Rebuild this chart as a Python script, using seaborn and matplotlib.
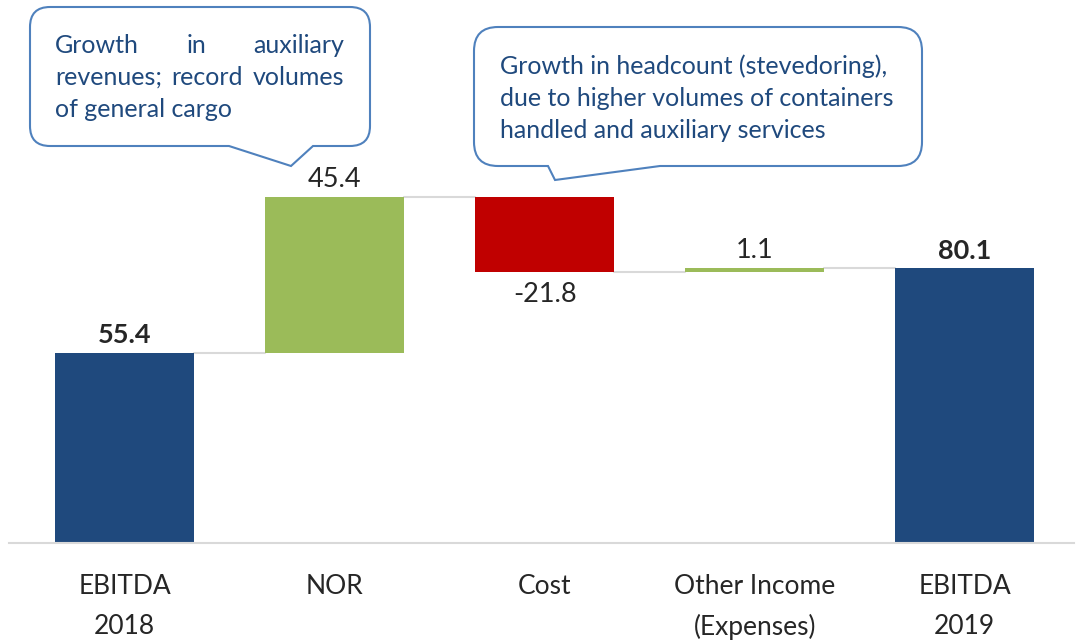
import numpy as np
import pandas as pd
import matplotlib.pyplot as plt
import seaborn as sb
from matplotlib.path import Path
from matplotlib.patches import PathPatch

# waterfall data
categories = ['EBITDA\n2018', 'NOR', 'Cost', 'Other Income\n(Expenses)', 'EBITDA\n2019']
ebitda_2018 = 55.4
changes = [45.4, -21.8, 1.1]
ebitda_2019 = 80.1
bar_colors = ['#1F497D', '#9BBB59', '#C00000', '#9BBB59', '#1F497D']

note_left = ['Growth in auxiliary', 'revenues; record volumes', 'of general cargo']
note_right = ['Growth in headcount (stevedoring),', 'due to higher volumes of containers',
              'handled and auxiliary services']

# bases and tops of each bar
levels = np.cumsum([ebitda_2018] + changes)
bases = [0.0] + [min(a, b) for a, b in zip(levels[:-1], levels[1:])] + [0.0]
lengths = [ebitda_2018] + [abs(c) for c in changes] + [ebitda_2019]
frame = pd.DataFrame({'Item': categories, 'Length': lengths})

sb.set_style('white')
plt.rcParams['font.family'] = ['Lato', 'DejaVu Sans']

fig = plt.figure(figsize=(10.76, 6.4), dpi=100)
W, H = 1076, 640
ax = fig.add_axes([9 / W, (H - 543) / H, 1065 / W, 543 / H])
sb.barplot(data=frame, x='Item', y='Length', hue='Item', palette=bar_colors,
           width=0.66, saturation=1, legend=False, ax=ax, linewidth=0)
for patch, base in zip(ax.patches, bases):
    patch.set_y(base)

ax.set_xlim(-0.55, 4.52)
ax.set_ylim(0, 158.3)
ax.set_xlabel('')
ax.set_ylabel('')
ax.set_yticks([])
for side in ['top', 'left', 'right']:
    ax.spines[side].set_visible(False)
ax.spines['bottom'].set_color('#D9D9D9')
ax.spines['bottom'].set_linewidth(1.5)
ax.tick_params(axis='x', length=0, pad=22, labelsize=19, labelcolor='#262626')
for lab in ax.get_xticklabels():
    lab.set_linespacing(1.75)

# connector lines between bars
half = 0.33
for i, lvl in enumerate(levels):
    ax.plot([i + half, i + 1 - half], [lvl, lvl], color='#D9D9D9', lw=1.5, zorder=0)

# value labels
tops = [b + l for b, l in zip(bases, lengths)]
value_text = ['55.4', '45.4', '-21.8', '1.1', '80.1']
weights = ['bold', 'normal', 'normal', 'normal', 'bold']
for i in range(5):
    if i == 2:
        ax.annotate(value_text[i], (i, bases[i]), xytext=(0, -7), textcoords='offset points',
                    ha='center', va='top', fontsize=19.5, color='#262626')
    else:
        ax.annotate(value_text[i], (i, tops[i]), xytext=(0, 4), textcoords='offset points',
                    ha='center', va='bottom', fontsize=19.5, color='#262626', fontweight=weights[i])

# overlay in pixel coords for the callouts
ov = fig.add_axes([0, 0, 1, 1], zorder=5)
ov.set_xlim(0, W)
ov.set_ylim(H, 0)
ov.axis('off')
ov.patch.set_alpha(0)


def callout(x0, y0, x1, y1, r, tl, tip, tr):
    verts = [(x0 + r, y0), (x1 - r, y0), (x1, y0), (x1, y0 + r), (x1, y1 - r), (x1, y1), (x1 - r, y1),
             (tr, y1), tip, (tl, y1), (x0 + r, y1), (x0, y1), (x0, y1 - r), (x0, y0 + r), (x0, y0),
             (x0 + r, y0), (x0 + r, y0)]
    codes = [Path.MOVETO, Path.LINETO, Path.CURVE3, Path.CURVE3, Path.LINETO, Path.CURVE3, Path.CURVE3,
             Path.LINETO, Path.LINETO, Path.LINETO, Path.LINETO, Path.CURVE3, Path.CURVE3, Path.LINETO,
             Path.CURVE3, Path.CURVE3, Path.CLOSEPOLY]
    ov.add_patch(PathPatch(Path(verts, codes), facecolor='white', edgecolor='#4F81BD', lw=1.5))


callout(30, 7, 370, 146, 20, 229, (291, 166), 313)
callout(474, 27, 922, 166, 24, 548, (555, 180), 660)

text_col = '#1F497D'
fig.canvas.draw()
renderer = fig.canvas.get_renderer()


def justified(words, left, right, y):
    objs = [ov.text(left, y, w, fontsize=18, color=text_col, va='baseline', ha='left') for w in words]
    widths = [o.get_window_extent(renderer).width for o in objs]
    gap = (right - left - sum(widths)) / (len(words) - 1)
    x = left
    for o, w in zip(objs, widths):
        o.set_x(x)
        x += w + gap


justified(note_left[0].split(), 55, 344, 53)
justified(note_left[1].split(), 55, 344, 85)
ov.text(55, 117, note_left[2], fontsize=18, color=text_col, va='baseline')
for k, line in enumerate(note_right):
    ov.text(500, 74 + 32 * k, line, fontsize=18, color=text_col, va='baseline')

plt.savefig('out.png', dpi=100)
